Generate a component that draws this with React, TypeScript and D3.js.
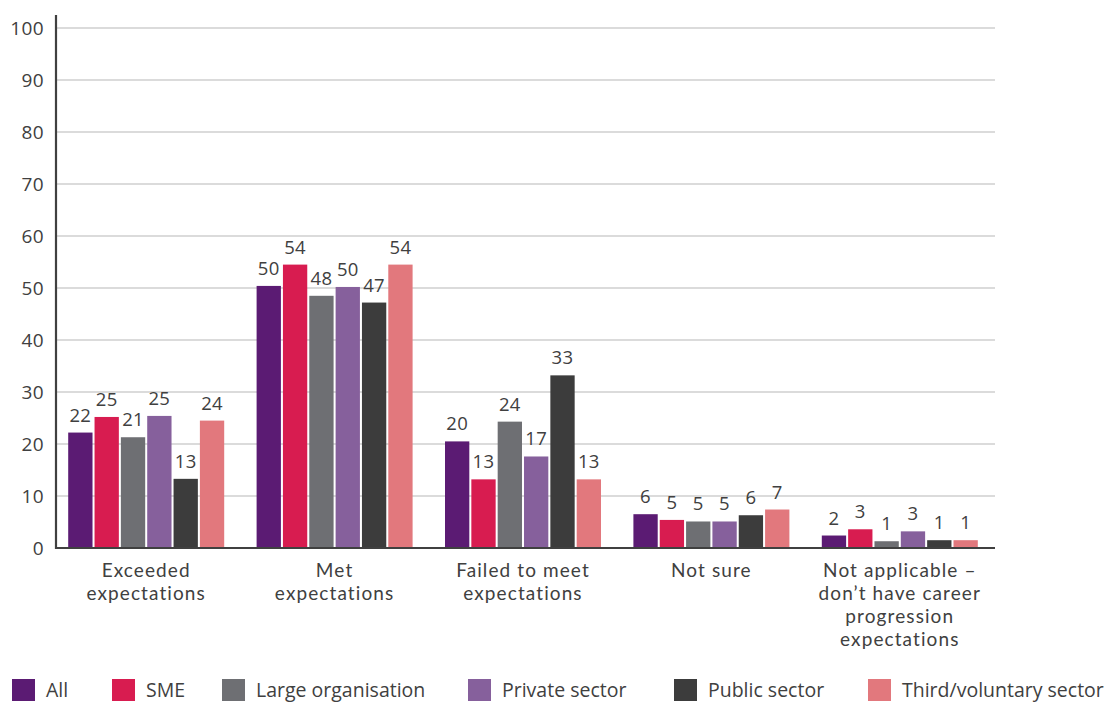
import React from "react";
import * as d3 from "d3";

const categories = [
  "Exceeded expectations",
  "Met expectations",
  "Failed to meet expectations",
  "Not sure",
  "Not applicable – don’t have career progression expectations",
];
const categoryLines = [
  ["Exceeded", "expectations"],
  ["Met", "expectations"],
  ["Failed to meet", "expectations"],
  ["Not sure"],
  ["Not applicable –", "don’t have career", "progression", "expectations"],
];
const seriesNames = ["All", "SME", "Large organisation", "Private sector", "Public sector", "Third/voluntary sector"];
const seriesColors = ["#5b1b73", "#d81c50", "#6e6f73", "#86609c", "#3c3c3c", "#e2787d"];

const allValues = [22.2, 50.4, 20.5, 6.5, 2.4];
const smeValues = [25.2, 54.5, 13.2, 5.4, 3.6];
const largeValues = [21.3, 48.5, 24.3, 5.1, 1.3];
const privateValues = [25.4, 50.2, 17.6, 5.1, 3.2];
const publicValues = [13.3, 47.2, 33.2, 6.3, 1.5];
const thirdValues = [24.5, 54.5, 13.2, 7.4, 1.5];
const allLabels = ["22", "50", "20", "6", "2"];
const smeLabels = ["25", "54", "13", "5", "3"];
const largeLabels = ["21", "48", "24", "5", "1"];
const privateLabels = ["25", "50", "17", "5", "3"];
const publicLabels = ["13", "47", "33", "6", "1"];
const thirdLabels = ["24", "54", "13", "7", "1"];
const yTicks = [0, 10, 20, 30, 40, 50, 60, 70, 80, 90, 100];

const seriesValues = [allValues, smeValues, largeValues, privateValues, publicValues, thirdValues];
const seriesLabels = [allLabels, smeLabels, largeLabels, privateLabels, publicLabels, thirdLabels];

const legendX = [12, 112, 222, 468, 674, 868];

const FONT = "'Open Sans', sans-serif";
const LABEL_FONT = "Lato, 'Open Sans', sans-serif";
const TEXT = "#404040";

export default function App() {
  const y = d3.scaleLinear().domain([0, 100]).range([548, 28]);
  const x0 = d3.scaleBand<string>().domain(categories).range([52, 994]).paddingInner(0.172).paddingOuter(0.086);
  const x1 = d3.scaleBand<string>().domain(seriesNames).range([0, x0.bandwidth()]).paddingInner(0.077);

  return (
    <svg width={1111} height={702} style={{ position: "absolute", left: 0, top: 0 }} fontFamily={FONT}>
      <rect width={1111} height={702} fill="#fff" />
      {yTicks.map((t) => (
        <g key={t}>
          {t > 0 && <line x1={56} x2={995} y1={y(t)} y2={y(t)} stroke="#cfcfcf" strokeWidth={1.6} />}
          <text x={44} y={y(t)} dy="0.36em" textAnchor="end" fontSize={19} letterSpacing={0.4} fill={TEXT}>
            {t}
          </text>
        </g>
      ))}
      {categories.map((c, ci) => (
        <g key={c} transform={`translate(${x0(c)},0)`}>
          {seriesNames.map((s, si) => {
            const v = seriesValues[si][ci];
            const bx = x1(s)!;
            return (
              <g key={s}>
                <rect x={bx} y={y(v)} width={x1.bandwidth()} height={y(0) - y(v)} fill={seriesColors[si]} />
                <text x={bx + x1.bandwidth() / 2} y={y(v) - 11} textAnchor="middle" fontSize={18.5} letterSpacing={0.3} fill={TEXT}>
                  {seriesLabels[si][ci]}
                </text>
              </g>
            );
          })}
          {categoryLines[ci].map((ln, li) => (
            <text
              key={li}
              x={x0.bandwidth() / 2}
              y={577 + li * 23}
              textAnchor="middle"
              fontFamily={LABEL_FONT}
              fontSize={19}
              letterSpacing={1.1}
              fill={TEXT}
            >
              {ln}
            </text>
          ))}
        </g>
      ))}
      <line x1={56} x2={56} y1={15} y2={549} stroke="#404040" strokeWidth={2.2} />
      <line x1={55} x2={995} y1={548} y2={548} stroke="#404040" strokeWidth={2.2} />
      {seriesNames.map((s, si) => (
        <g key={s} transform={`translate(${legendX[si]},679)`}>
          <rect width={23} height={22} fill={seriesColors[si]} />
          <text x={34} y={18} fontSize={19.5} fill={TEXT}>
            {s}
          </text>
        </g>
      ))}
    </svg>
  );
}
